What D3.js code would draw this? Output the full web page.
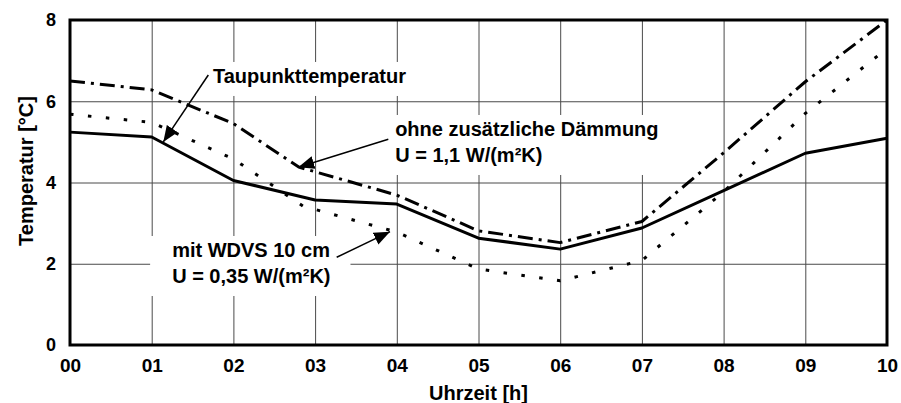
<!DOCTYPE html>
<html>
<head>
<meta charset="utf-8">
<script src="https://cdn.jsdelivr.net/npm/d3@7"></script>
<style>
  body { margin: 0; background: #fff; }
  svg text { font-family: "Liberation Sans", Arial, sans-serif; font-weight: bold; fill: #000; }
</style>
</head>
<body>
<div id="chart"></div>
<script>
// hours on the x axis
const hourTicks = [0, 1, 2, 3, 4, 5, 6, 7, 8, 9, 10];
const hourLabels = ["00", "01", "02", "03", "04", "05", "06", "07", "08", "09", "10"];
const tempTicks = [0, 2, 4, 6, 8];

// Taupunkttemperatur (solid)
const dewTimes = [0, 1, 2, 3, 4, 5, 6, 7, 8, 9, 10];
const dewValues = [5.24, 5.12, 4.05, 3.57, 3.47, 2.63, 2.36, 2.88, 3.80, 4.72, 5.09];

// ohne zusätzliche Dämmung (dash-dot)
const ohneTimes = [0, 1, 2, 2.8, 4, 5, 6, 7, 8, 9, 10];
const ohneValues = [6.50, 6.28, 5.45, 4.38, 3.69, 2.81, 2.52, 3.04, 4.73, 6.48, 8.0];

// mit WDVS 10 cm (dotted)
const wdvsTimes = [0, 1, 2, 2.85, 4, 5, 6, 7, 8, 9, 10];
const wdvsValues = [5.68, 5.48, 4.58, 3.42, 2.78, 1.87, 1.58, 2.08, 3.77, 5.70, 7.30];

const margin = { top: 20, right: 14, bottom: 58, left: 70 };
const width = 901 - margin.left - margin.right;
const height = 403 - margin.top - margin.bottom;

const svg = d3.select("#chart").append("svg")
    .attr("width", 901)
    .attr("height", 403);

const defs = svg.append("defs");
defs.append("marker")
    .attr("id", "arrow")
    .attr("markerUnits", "userSpaceOnUse")
    .attr("viewBox", "0 -7 16 14")
    .attr("refX", 16)
    .attr("refY", 0)
    .attr("markerWidth", 16)
    .attr("markerHeight", 14)
    .attr("orient", "auto")
  .append("path")
    .attr("d", "M0,-6.5L16,0L0,6.5Z")
    .attr("fill", "#000");

const g = svg.append("g")
    .attr("transform", `translate(${margin.left},${margin.top})`);

const x = d3.scaleLinear().domain([0, 10]).range([0, width]);
const y = d3.scaleLinear().domain([0, 8]).range([height, 0]);

// grid
g.append("g")
    .attr("class", "grid")
    .attr("transform", `translate(0,${height})`)
    .call(d3.axisBottom(x).tickValues(hourTicks).tickSize(-height).tickFormat(""))
    .call(s => s.select(".domain").remove())
    .selectAll(".tick line")
    .attr("stroke", "#4a4a4a");

g.append("g")
    .attr("class", "grid")
    .call(d3.axisLeft(y).tickValues(tempTicks).tickSize(-width).tickFormat(""))
    .call(s => s.select(".domain").remove())
    .selectAll(".tick line")
    .attr("stroke", "#4a4a4a");

// annotation text (positions in data units)
const notes = [
  { x: 1.75, y: 6.45, lines: ["Taupunkttemperatur"] },
  { x: 3.98, y: 5.145, lines: ["ohne zusätzliche Dämmung", "U = 1,1 W/(m²K)"] },
  { x: 1.25, y: 2.166, lines: ["mit WDVS 10 cm", "U = 0,35 W/(m²K)"] }
];

const boxLayer = g.append("g");
const lineLayer = g.append("g");
const arrowLayer = g.append("g");
const textLayer = g.append("g");

notes.forEach(n => {
  const t = textLayer.append("text")
      .attr("x", x(n.x))
      .attr("y", y(n.y))
      .style("font-size", "20px");
  n.lines.forEach((l, i) => {
    t.append("tspan")
        .attr("x", x(n.x))
        .attr("dy", i === 0 ? 0 : 26)
        .text(l);
  });
  const bb = t.node().getBBox();
  boxLayer.append("rect")
      .attr("x", bb.x - 22)
      .attr("y", bb.y - 3)
      .attr("width", bb.width + 42)
      .attr("height", bb.height + 12)
      .attr("fill", "#fff");
});

// series
const series = [
  { t: dewTimes, v: dewValues, dash: null },
  { t: ohneTimes, v: ohneValues, dash: "15,6,3,6" },
  { t: wdvsTimes, v: wdvsValues, dash: "3.5,14.5" }
];

const line = d3.line()
    .x(d => x(d[0]))
    .y(d => y(d[1]));

series.forEach(s => {
  lineLayer.append("path")
      .datum(s.t.map((h, i) => [h, s.v[i]]))
      .attr("d", line)
      .attr("fill", "none")
      .attr("stroke", "#000")
      .attr("stroke-width", 3)
      .attr("stroke-linejoin", "round")
      .attr("stroke-dasharray", s.dash);
});

// arrows (data units)
const arrows = [
  { x1: 1.693, y1: 6.646, x2: 1.142, y2: 5.0 },
  { x1: 3.896, y1: 5.063, x2: 2.794, y2: 4.374 },
  { x1: 3.264, y1: 2.159, x2: 3.917, y2: 2.789 }
];

arrowLayer.selectAll("line")
    .data(arrows)
    .enter()
    .append("line")
    .attr("x1", d => x(d.x1))
    .attr("y1", d => y(d.y1))
    .attr("x2", d => x(d.x2))
    .attr("y2", d => y(d.y2))
    .attr("stroke", "#000")
    .attr("stroke-width", 1.5)
    .attr("marker-end", "url(#arrow)");

// frame
g.append("rect")
    .attr("x", 0)
    .attr("y", 0)
    .attr("width", width)
    .attr("height", height)
    .attr("fill", "none")
    .attr("stroke", "#000")
    .attr("stroke-width", 3);

// tick labels
const xAxis = g.append("g")
    .attr("transform", `translate(0,${height})`)
    .call(d3.axisBottom(x).tickValues(hourTicks).tickSize(0).tickPadding(14)
      .tickFormat((d, i) => hourLabels[i]));
xAxis.select(".domain").remove();
xAxis.selectAll("text")
    .style("font-size", "19px")
    .attr("fill", "#000");

const yAxis = g.append("g")
    .call(d3.axisLeft(y).tickValues(tempTicks).tickSize(0).tickPadding(14)
      .tickFormat(d3.format("d")));
yAxis.select(".domain").remove();
yAxis.selectAll("text")
    .style("font-size", "18px")
    .attr("fill", "#000");

// axis titles
svg.append("text")
    .attr("x", margin.left + width / 2)
    .attr("y", 400)
    .attr("text-anchor", "middle")
    .style("font-size", "20px")
    .text("Uhrzeit [h]");

svg.append("text")
    .attr("transform", "translate(33,171) rotate(-90)")
    .attr("text-anchor", "middle")
    .style("font-size", "20px")
    .text("Temperatur [°C]");
</script>
</body>
</html>
